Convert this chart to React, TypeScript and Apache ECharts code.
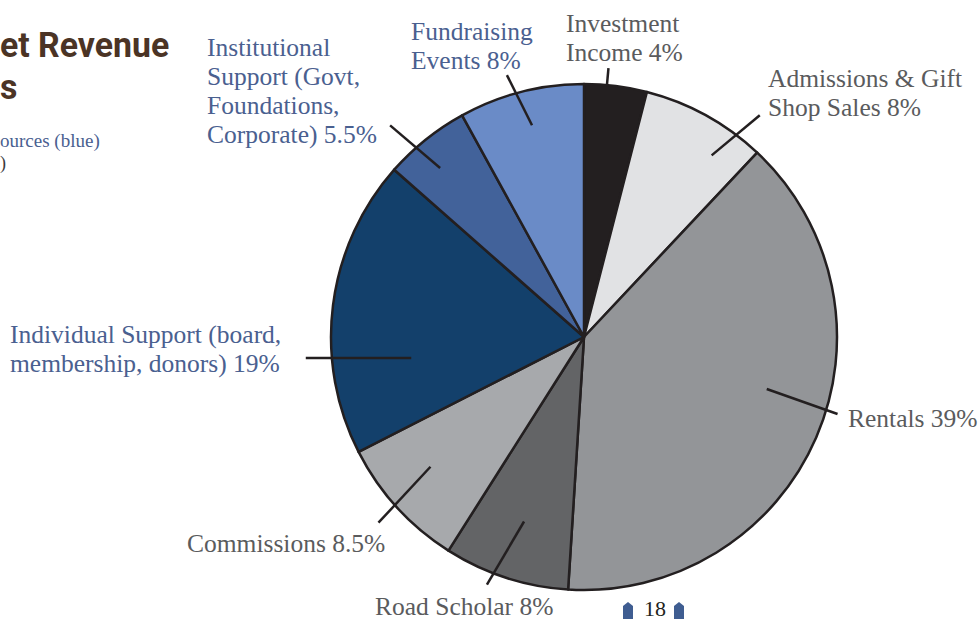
import React, { useEffect, useRef } from "react";
import * as echarts from "echarts";

// ---- data ----
const categories = [
  "Investment Income",
  "Admissions & Gift Shop Sales",
  "Rentals",
  "Road Scholar",
  "Commissions",
  "Individual Support (board, membership, donors)",
  "Institutional Support (Govt, Foundations, Corporate)",
  "Fundraising Events",
];
const shares = [4, 8, 39, 8, 8.5, 19, 5.5, 8];
const labelNameLines = [
  ["Investment", "Income"],
  ["Admissions & Gift", "Shop Sales"],
  ["Rentals"],
  ["Road Scholar"],
  ["Commissions"],
  ["Individual Support (board,", "membership, donors)"],
  ["Institutional", "Support (Govt,", "Foundations,", "Corporate)"],
  ["Fundraising", "Events"],
];
const sliceColors = [
  "#231f20",
  "#e1e2e4",
  "#939598",
  "#636466",
  "#a7a9ac",
  "#13406b",
  "#42629a",
  "#6a8bc7",
];
const isOwnSource = [false, false, false, false, false, true, true, true];

// ---- layout (positions / styles) ----
const CX = 584;
const CY = 337;
const R = 253;
// label top-left positions and line heights
const labelPos: [number, number][] = [
  [566, 9],
  [768, 64],
  [848, 404],
  [375, 594],
  [187, 529],
  [10, 320],
  [207, 33],
  [411, 17],
];
const labelLineHeight = [29, 29, 29, 24, 29, 29, 29, 29];
// leader lines in polar form: [angle1(deg from top, cw), r1, angle2, r2]
const leaders: [number, number, number, number][] = [
  [5.2, 253, 5.2, 270],
  [35.1, 222, 38.4, 283],
  [105.9, 190, 106.9, 265],
  [198.0, 194, 201.4, 266],
  [229.8, 201, 227.9, 277],
  [263.1, 174, 265.7, 279],
  [319.6, 222, 317.5, 287],
  [346.2, 218, 343.6, 273],
];

function polar(deg: number, r: number): [number, number] {
  const a = (deg * Math.PI) / 180;
  return [CX + r * Math.sin(a), CY - r * Math.cos(a)];
}

const BLUE_TEXT = "#4a6090";
const GRAY_TEXT = "#5a5b5d";
const SERIF = '"Liberation Serif", "DejaVu Serif", serif';
const TITLE_FONT = 'bold 36px Roboto, "Liberation Sans", sans-serif';

export default function App() {
  const ref = useRef<HTMLDivElement>(null);

  useEffect(() => {
    if (!ref.current) return;
    const chart = echarts.init(ref.current, null, { renderer: "svg" });

    const sliceData = categories.map((name, i) => ({
      name,
      value: shares[i],
      itemStyle: { color: sliceColors[i] },
    }));
    const labelData = categories.map((name, i) => ({
      name,
      value: shares[i],
      label: {
        color: isOwnSource[i] ? BLUE_TEXT : GRAY_TEXT,
        lineHeight: labelLineHeight[i],
      },
    }));

    chart.setOption({
      animation: false,
      backgroundColor: "#ffffff",
      graphic: [
        {
          type: "text",
          x: 0,
          y: 27,
          scaleX: 0.94,
          style: { text: "et Revenue", font: TITLE_FONT, fill: "#4b3425" },
        },
        {
          type: "text",
          x: 0,
          y: 69,
          scaleX: 0.94,
          style: { text: "s", font: TITLE_FONT, fill: "#4b3425" },
        },
        {
          type: "text",
          left: 0,
          top: 131,
          style: {
            text: "ources (blue)",
            font: `19px ${SERIF}`,
            fill: BLUE_TEXT,
          },
        },
        {
          type: "text",
          left: 0,
          top: 154,
          style: { text: ")", font: `18px ${SERIF}`, fill: "#3a3a3c" },
        },
        {
          type: "polygon",
          shape: {
            points: [
              [623, 619],
              [623, 606],
              [628, 602],
              [633, 606],
              [633, 619],
            ],
          },
          style: { fill: "#3f5d91" },
        },
        {
          type: "polygon",
          shape: {
            points: [
              [674, 619],
              [674, 606],
              [679, 602],
              [684, 606],
              [684, 619],
            ],
          },
          style: { fill: "#3f5d91" },
        },
        {
          type: "text",
          x: 644,
          y: 619,
          style: {
            text: "18",
            font: `22px ${SERIF}`,
            fill: "#231f20",
            verticalAlign: "bottom",
          },
        },
      ],
      series: [
        {
          type: "pie",
          z: 2,
          center: [CX, CY],
          radius: R,
          startAngle: 90,
          clockwise: true,
          silent: true,
          data: sliceData,
          label: { show: false },
          labelLine: { show: false },
          itemStyle: { borderColor: "#231f20", borderWidth: 2.5 },
          emphasis: { disabled: true },
        },
        {
          type: "pie",
          z: 6,
          center: [CX, CY],
          radius: R,
          startAngle: 90,
          clockwise: true,
          silent: true,
          avoidLabelOverlap: false,
          data: labelData,
          itemStyle: { color: "rgba(0,0,0,0)", borderWidth: 0 },
          label: {
            show: true,
            position: "outside",
            fontFamily: SERIF,
            fontSize: 25.5,
            lineHeight: 29,
            formatter: (p: any) => {
              const lines = labelNameLines[p.dataIndex].slice();
              lines[lines.length - 1] += " " + shares[p.dataIndex] + "%";
              return lines.join("\n");
            },
          },
          labelLine: {
            show: true,
            length: 20,
            length2: 0,
            smooth: false,
            lineStyle: { color: "#231f20", width: 2.5 },
          },
          emphasis: { disabled: true },
          labelLayout: (p: any) => {
            const i = p.dataIndex;
            const [a1, r1, a2, r2] = leaders[i];
            const p1 = polar(a1, r1);
            const p2 = polar(a2, r2);
            return {
              x: labelPos[i][0],
              y: labelPos[i][1],
              align: "left",
              verticalAlign: "top",
              labelLinePoints: [p1, p2, p2],
            };
          },
        },
      ],
    });

    return () => chart.dispose();
  }, []);

  return (
    <div
      ref={ref}
      style={{ position: "fixed", left: 0, top: 0, width: 980, height: 619 }}
    />
  );
}
